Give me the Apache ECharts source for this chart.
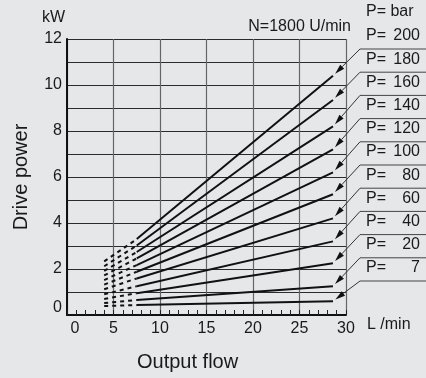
<!DOCTYPE html>
<html>
<head>
<meta charset="utf-8">
<title>Drive power</title>
<script src="https://cdn.jsdelivr.net/npm/echarts@6/dist/echarts.min.js"></script>
<style>
html, body { margin: 0; padding: 0; background: #e6e7e9; }
#chart { width: 426px; height: 378px; }
</style>
</head>
<body>
<div id="chart"></div>
<script>
// pressure curves, P in bar (top to bottom)
var pressures = [200, 180, 160, 140, 120, 100, 80, 60, 40, 20, 7];
// flow (L/min) where the dashed part starts, the solid part starts and the curve ends
var flowStart = 4;
var flowSolid = 7.5;
var flowEnd = 28.6;
// drive power (kW) read at those flows
var powerStart = [2.33, 2.12, 1.92, 1.72, 1.52, 1.32, 1.12, 0.90, 0.70, 0.52, 0.39];
var powerSolid = [3.30, 3.02, 2.74, 2.46, 2.17, 1.88, 1.59, 1.25, 0.95, 0.65, 0.43];
var powerEnd   = [10.4, 9.35, 8.2, 7.2, 6.2, 5.25, 4.2, 3.2, 2.25, 1.25, 0.6];
var yLabels = [0, 2, 4, 6, 8, 10, 12];
var xLabels = [0, 5, 10, 15, 20, 25, 30];

var FONT = "'Liberation Sans', Arial, sans-serif";
var INK = '#1a1a1a';

var chart = echarts.init(document.getElementById('chart'));

var series = [];
pressures.forEach(function (p, i) {
	series.push({
		name: 'P' + p + 'd',
		type: 'line',
		symbol: 'none',
		silent: true,
		lineStyle: { color: '#111', width: 2, type: [4, 4] },
		data: [[flowStart, powerStart[i]], [flowSolid, powerSolid[i]]]
	});
	series.push({
		name: 'P' + p,
		type: 'line',
		symbol: 'none',
		silent: true,
		lineStyle: { color: '#111', width: 2 },
		data: [[flowSolid, powerSolid[i]], [flowEnd, powerEnd[i]]]
	});
});

// callouts: arrow from the label table to the end of each curve
function renderCallout(params, api) {
	var i = params.dataIndex;
	var end = api.coord([api.value(0), api.value(1)]);
	var sepY = 49 + i * 23.2;
	var cornerX = 360;
	var dx = cornerX - end[0], dy = sepY - end[1];
	var len = Math.sqrt(dx * dx + dy * dy);
	var ux = dx / len, uy = dy / len;
	var tip = [end[0] + ux * 3, end[1] + uy * 3];
	var base = [tip[0] + ux * 10, tip[1] + uy * 10];
	var px = -uy * 2.8, py = ux * 2.8;
	return {
		type: 'group',
		children: [
			{ type: 'line', shape: { x1: cornerX, y1: sepY, x2: 430, y2: sepY }, style: { stroke: '#444', lineWidth: 1 } },
			{ type: 'line', shape: { x1: cornerX, y1: sepY, x2: base[0], y2: base[1] }, style: { stroke: '#333', lineWidth: 1 } },
			{ type: 'polygon', shape: { points: [tip, [base[0] + px, base[1] + py], [base[0] - px, base[1] - py]] }, style: { fill: '#111' } },
			{ type: 'text', style: { text: 'P=', x: 366, y: sepY - 13, fill: INK, font: '16px ' + FONT, verticalAlign: 'middle' } },
			{ type: 'text', style: { text: String(pressures[i]), x: 420, y: sepY - 13, fill: INK, font: '16px ' + FONT, align: 'right', verticalAlign: 'middle' } }
		]
	};
}
series.push({
	type: 'custom',
	silent: true,
	clip: false,
	z: 5,
	renderItem: renderCallout,
	encode: { x: 0, y: 1 },
	data: pressures.map(function (p, i) { return [flowEnd, powerEnd[i]]; })
});

var option = {
	backgroundColor: '#e6e7e9',
	animation: false,
	grid: { left: 67, right: 80, top: 39, bottom: 63, containLabel: false, outerBoundsMode: 'none' },
	xAxis: {
		type: 'value',
		min: 0,
		max: 30,
		interval: 5,
		axisLine: { lineStyle: { color: '#111', width: 2 } },
		axisTick: { show: true, inside: true, length: 5, lineStyle: { color: '#222' } },
		minorTick: { show: true, splitNumber: 5, length: 5, lineStyle: { color: '#222', width: 1 } },
		splitLine: { show: true, lineStyle: { color: '#666', width: 1.2 } },
		axisLabel: {
			margin: 6,
			color: INK,
			fontSize: 16,
			fontFamily: FONT,
			formatter: function (v) {
				if (xLabels.indexOf(v) < 0) return '';
				return v === 0 ? '{z|0}' : String(v);
			},
			rich: { z: { padding: [0, 0, 0, 16], fontSize: 16, fontFamily: FONT, color: INK } }
		}
	},
	yAxis: {
		type: 'value',
		min: 0,
		max: 12,
		interval: 1,
		name: 'Drive power',
		nameLocation: 'middle',
		nameGap: 36,
		nameMoveOverlap: false,
		nameTextStyle: { fontSize: 20, fontFamily: FONT, color: INK },
		axisLine: { show: true, lineStyle: { color: '#111', width: 2 } },
		axisTick: { show: false },
		splitLine: { show: true, lineStyle: { color: '#2b2b2b', width: 1.2 } },
		axisLabel: {
			margin: 5,
			color: INK,
			fontSize: 16,
			fontFamily: FONT,
			formatter: function (v) {
				if (yLabels.indexOf(v) < 0) return '';
				return v === 0 ? '{z|0}' : String(v);
			},
			rich: { z: { padding: [0, 0, 15, 0], fontSize: 16, fontFamily: FONT, color: INK } }
		}
	},
	graphic: [
		{ type: 'text', left: 42, top: 10, style: { text: 'kW', fill: INK, font: '16px ' + FONT } },
		{ type: 'text', right: 75, top: 19, style: { text: 'N=1800 U/min', fill: INK, font: '16px ' + FONT } },
		{ type: 'text', left: 366, top: 4, style: { text: 'P= bar', fill: INK, font: '16px ' + FONT } },
		{ type: 'text', left: 367, top: 317, style: { text: 'L /min', fill: INK, font: '16px ' + FONT } },
		{ type: 'text', left: 137, top: 352, style: { text: 'Output flow', fill: INK, font: '20px ' + FONT } }
	],
	series: series
};
chart.setOption(option);
</script>
</body>
</html>
